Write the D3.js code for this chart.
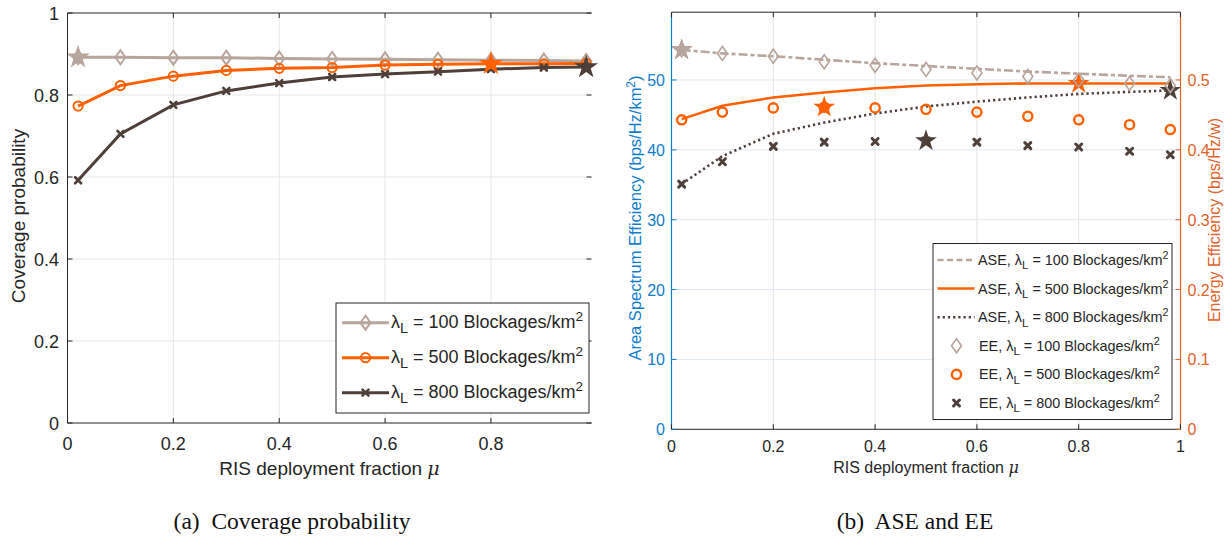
<!DOCTYPE html>
<html>
<head>
<meta charset="utf-8">
<script src="https://cdn.jsdelivr.net/npm/d3@7"></script>
<style>
  body { margin: 0; background: #fff; }
  text { font-family: "Liberation Sans", Arial, sans-serif; }
</style>
</head>
<body>
<script>
// ---- data ----
var mu = [0.02, 0.1, 0.2, 0.3, 0.4, 0.5, 0.6, 0.7, 0.8, 0.9, 0.98];

var cov100 = [0.892, 0.892, 0.891, 0.891, 0.889, 0.888, 0.887, 0.886, 0.885, 0.884, 0.883];
var cov500 = [0.773, 0.823, 0.846, 0.860, 0.865, 0.867, 0.873, 0.875, 0.876, 0.876, 0.877];
var cov800 = [0.592, 0.705, 0.776, 0.810, 0.829, 0.844, 0.851, 0.857, 0.863, 0.867, 0.868];
var covStarIdx = [0, 8, 10];

var ase100 = [54.3, 53.8, 53.4, 52.9, 52.4, 52.0, 51.6, 51.2, 50.9, 50.6, 50.4];
var ase500 = [44.4, 46.3, 47.5, 48.2, 48.8, 49.2, 49.4, 49.5, 49.5, 49.5, 49.5];
var ase800 = [35.1, 39.1, 42.3, 43.9, 45.2, 46.2, 46.9, 47.5, 48.0, 48.3, 48.5];
var aseStarIdx = [0, 8, 10];

var ee100 = [0.543, 0.538, 0.534, 0.526, 0.521, 0.515, 0.510, 0.505, 0.500, 0.495, 0.492];
var ee500 = [0.443, 0.454, 0.460, 0.461, 0.460, 0.458, 0.454, 0.448, 0.443, 0.436, 0.429];
var ee800 = [0.351, 0.383, 0.405, 0.411, 0.412, 0.413, 0.411, 0.406, 0.404, 0.398, 0.393];
var eeStarIdx = [0, 3, 5];

var blockages = ["100", "500", "800"];
var covTicksX = [0, 0.2, 0.4, 0.6, 0.8];
var covTicksY = [0, 0.2, 0.4, 0.6, 0.8, 1];
var aseTicksX = [0, 0.2, 0.4, 0.6, 0.8, 1];
var aseTicksY = [0, 10, 20, 30, 40, 50];
var eeTicksY = [0, 0.1, 0.2, 0.3, 0.4, 0.5];

var colors = ["#b8a59c", "#ff6000", "#4f3f39"];
var axisCol = "#262626", blue = "#0f7ccc", orng = "#e0622a";

var width = 1225, height = 545;
var svg = d3.select("body").append("svg")
    .attr("width", width).attr("height", height);

var star = function(r) { return d3.symbol().type(d3.symbolStar).size(r * r / 0.8908130915292852)(); };

function marker(g, kind, x, y, col, sw) {
  if (kind == "diamond") {
    g.append("path").attr("d", "M" + x + "," + (y - 7) + "L" + (x + 5) + "," + y + "L" + x + "," + (y + 7) + "L" + (x - 5) + "," + y + "Z")
      .attr("fill", "none").attr("stroke", col).attr("stroke-width", sw);
  } else if (kind == "circle") {
    g.append("circle").attr("cx", x).attr("cy", y).attr("r", 4.6)
      .attr("fill", "none").attr("stroke", col).attr("stroke-width", sw);
  } else {
    g.append("path").attr("d", "M" + (x - 3) + "," + (y - 3) + "L" + (x + 3) + "," + (y + 3) + "M" + (x + 3) + "," + (y - 3) + "L" + (x - 3) + "," + (y + 3))
      .attr("stroke", col).attr("stroke-width", sw + 0.6).attr("stroke-linecap", "round");
  }
}

function lambdaLabel(t, prefix, b, fs) {
  if (prefix) t.append("tspan").text(prefix);
  t.append("tspan").text("λ");
  t.append("tspan").attr("dy", fs * 0.3).attr("font-size", fs * 0.8).text("L");
  t.append("tspan").attr("dy", -fs * 0.3).text(" = " + b + " Blockages/km");
  t.append("tspan").attr("dy", -fs * 0.4).attr("font-size", fs * 0.75).text("2");
}

// ================= (a) coverage probability =================
var xa = d3.scaleLinear().domain([0, 0.99]).range([67.5, 591.5]);
var ya = d3.scaleLinear().domain([0, 1]).range([423, 13]);
var ga = svg.append("g");

ga.selectAll(".gx").data(covTicksX.slice(1)).enter().append("line")
  .attr("x1", d => xa(d)).attr("x2", d => xa(d)).attr("y1", ya(0)).attr("y2", ya(1))
  .attr("stroke", "#e6e6e6");
ga.selectAll(".gy").data(covTicksY.slice(1, -1)).enter().append("line")
  .attr("x1", xa(0)).attr("x2", xa(0.99)).attr("y1", d => ya(d)).attr("y2", d => ya(d))
  .attr("stroke", "#e6e6e6");

var covSeries = [cov100, cov500, cov800];
var covMarks = ["diamond", "circle", "x"];
var lineA = d3.line().x((d, i) => xa(mu[i])).y(d => ya(d));
covSeries.forEach(function(s, k) {
  ga.append("path").attr("d", lineA(s)).attr("fill", "none")
    .attr("stroke", colors[k]).attr("stroke-width", 3);
  s.forEach(function(v, i) { marker(ga, covMarks[k], xa(mu[i]), ya(v), colors[k], 2); });
});
covSeries.forEach(function(s, k) {
  var i = covStarIdx[k];
  ga.append("path").attr("d", star(12.5))
    .attr("transform", "translate(" + xa(mu[i]) + "," + ya(s[i]) + ")")
    .attr("fill", colors[k]);
});

// axes (a)
ga.append("line").attr("x1", xa(0)).attr("x2", xa(0.99)).attr("y1", ya(0)).attr("y2", ya(0)).attr("stroke", axisCol);
ga.append("line").attr("x1", xa(0)).attr("x2", xa(0.99)).attr("y1", ya(1)).attr("y2", ya(1)).attr("stroke", axisCol);
ga.append("line").attr("x1", xa(0)).attr("x2", xa(0)).attr("y1", ya(0)).attr("y2", ya(1)).attr("stroke", axisCol);
covTicksX.forEach(function(t) {
  ga.append("line").attr("x1", xa(t)).attr("x2", xa(t)).attr("y1", ya(0)).attr("y2", ya(0) - 5).attr("stroke", axisCol);
  ga.append("line").attr("x1", xa(t)).attr("x2", xa(t)).attr("y1", ya(1)).attr("y2", ya(1) + 5).attr("stroke", axisCol);
  ga.append("text").attr("x", xa(t)).attr("y", 450).attr("text-anchor", "middle")
    .attr("font-size", 18).attr("fill", axisCol).text(t);
});
covTicksY.forEach(function(t) {
  ga.append("line").attr("x1", xa(0)).attr("x2", xa(0) + 5).attr("y1", ya(t)).attr("y2", ya(t)).attr("stroke", axisCol);
  ga.append("line").attr("x1", xa(0.99)).attr("x2", xa(0.99) - 5).attr("y1", ya(t)).attr("y2", ya(t)).attr("stroke", axisCol);
  ga.append("text").attr("x", 59).attr("y", ya(t) + 6.5).attr("text-anchor", "end")
    .attr("font-size", 18).attr("fill", axisCol).text(t);
});
var xla = ga.append("text").attr("x", (xa(0) + xa(0.99)) / 2).attr("y", 475).attr("text-anchor", "middle")
  .attr("font-size", 19).attr("fill", axisCol);
xla.append("tspan").text("RIS deployment fraction ");
xla.append("tspan").style("font-style", "italic").style("font-family", "DejaVu Serif").text("μ");
ga.append("text").attr("transform", "translate(25,216) rotate(-90)").attr("text-anchor", "middle")
  .attr("font-size", 19).attr("fill", axisCol).text("Coverage probability");

// legend (a)
var la = ga.append("g");
la.append("rect").attr("x", 336).attr("y", 303).attr("width", 253).attr("height", 110)
  .attr("fill", "#fff").attr("stroke", axisCol);
blockages.forEach(function(b, k) {
  var y = 322.7 + k * 35;
  la.append("line").attr("x1", 342).attr("x2", 389).attr("y1", y).attr("y2", y)
    .attr("stroke", colors[k]).attr("stroke-width", 3);
  marker(la, covMarks[k], 365.5, y, colors[k], 2);
  var t = la.append("text").attr("x", 391).attr("y", y + 5).attr("font-size", 18).attr("fill", axisCol);
  lambdaLabel(t, null, b, 18);
});

// ================= (b) ASE and EE =================
var xb = d3.scaleLinear().domain([0, 1]).range([671.5, 1180.5]);
var yb = d3.scaleLinear().domain([0, 59.7]).range([429.3, 12.2]);
var yr = d3.scaleLinear().domain([0, 0.597]).range([429.3, 12.2]);
var gb = svg.append("g");

gb.selectAll(".gx").data(aseTicksX.slice(1, -1)).enter().append("line")
  .attr("x1", d => xb(d)).attr("x2", d => xb(d)).attr("y1", yb(0)).attr("y2", yb(59.7))
  .attr("stroke", "#e3e3e3");
gb.selectAll(".gy").data(aseTicksY.slice(1)).enter().append("line")
  .attr("x1", xb(0)).attr("x2", xb(1)).attr("y1", d => yb(d)).attr("y2", d => yb(d))
  .attr("stroke", "#dfe9f2");

var aseSeries = [ase100, ase500, ase800];
var eeSeries = [ee100, ee500, ee800];
var dashes = ["9,3,4,3", null, "2.2,3"];
var lineB = d3.line().x((d, i) => xb(mu[i])).y(d => yb(d));
aseSeries.forEach(function(s, k) {
  gb.append("path").attr("d", lineB(s)).attr("fill", "none")
    .attr("stroke", colors[k]).attr("stroke-width", k == 1 ? 2.5 : 2.6)
    .attr("stroke-dasharray", dashes[k]);
});
aseSeries.forEach(function(s, k) {
  var i = aseStarIdx[k];
  gb.append("path").attr("d", star(11.5))
    .attr("transform", "translate(" + xb(mu[i]) + "," + yb(s[i]) + ")")
    .attr("fill", colors[k]);
});
eeSeries.forEach(function(s, k) {
  s.forEach(function(v, i) { marker(gb, covMarks[k], xb(mu[i]), yr(v), colors[k], k == 0 ? 1.6 : 2.4); });
});
eeSeries.forEach(function(s, k) {
  var i = eeStarIdx[k];
  gb.append("path").attr("d", star(11.5))
    .attr("transform", "translate(" + xb(mu[i]) + "," + yr(s[i]) + ")")
    .attr("fill", colors[k]);
});

// axes (b)
gb.append("line").attr("x1", xb(0)).attr("x2", xb(1)).attr("y1", yb(0)).attr("y2", yb(0)).attr("stroke", axisCol);
gb.append("line").attr("x1", xb(0)).attr("x2", xb(1)).attr("y1", yb(59.7)).attr("y2", yb(59.7)).attr("stroke", axisCol);
gb.append("line").attr("x1", xb(0)).attr("x2", xb(0)).attr("y1", yb(0)).attr("y2", yb(59.7)).attr("stroke", blue).attr("stroke-width", 1.2);
gb.append("line").attr("x1", xb(1)).attr("x2", xb(1)).attr("y1", yb(0)).attr("y2", yb(59.7)).attr("stroke", orng).attr("stroke-width", 1.2);
aseTicksX.forEach(function(t) {
  gb.append("line").attr("x1", xb(t)).attr("x2", xb(t)).attr("y1", yb(0)).attr("y2", yb(0) - 5).attr("stroke", axisCol);
  gb.append("line").attr("x1", xb(t)).attr("x2", xb(t)).attr("y1", yb(59.7)).attr("y2", yb(59.7) + 5).attr("stroke", axisCol);
  gb.append("text").attr("x", xb(t)).attr("y", 452).attr("text-anchor", "middle")
    .attr("font-size", 16).attr("fill", axisCol).text(t);
});
aseTicksY.forEach(function(t) {
  gb.append("line").attr("x1", xb(0)).attr("x2", xb(0) + 5).attr("y1", yb(t)).attr("y2", yb(t)).attr("stroke", blue);
  gb.append("text").attr("x", 665).attr("y", yb(t) + 6).attr("text-anchor", "end")
    .attr("font-size", 16).attr("fill", blue).text(t);
});
eeTicksY.forEach(function(t) {
  gb.append("line").attr("x1", xb(1)).attr("x2", xb(1) - 5).attr("y1", yr(t)).attr("y2", yr(t)).attr("stroke", orng);
  gb.append("text").attr("x", 1187.5).attr("y", yr(t) + 6).attr("text-anchor", "start")
    .attr("font-size", 16).attr("fill", orng).text(t);
});
var xlb = gb.append("text").attr("x", (xb(0) + xb(1)) / 2).attr("y", 473).attr("text-anchor", "middle")
  .attr("font-size", 16).attr("fill", axisCol);
xlb.append("tspan").text("RIS deployment fraction ");
xlb.append("tspan").style("font-style", "italic").style("font-family", "DejaVu Serif").text("μ");

var ylb = gb.append("text").attr("transform", "translate(641,218) rotate(-90)").attr("text-anchor", "middle")
  .attr("font-size", 16.5).attr("fill", blue);
ylb.append("tspan").text("Area Spectrum Efficiency (bps/Hz/km");
ylb.append("tspan").attr("dy", -6).attr("font-size", 12).text("2");
ylb.append("tspan").attr("dy", 6).text(")");
gb.append("text").attr("transform", "translate(1220,220) rotate(-90)").attr("text-anchor", "middle")
  .attr("font-size", 16).attr("fill", orng).text("Energy Efficiency (bps/Hz/w)");

// legend (b)
var lb = gb.append("g");
lb.append("rect").attr("x", 933).attr("y", 243.5).attr("width", 239).attr("height", 176)
  .attr("fill", "#fff").attr("stroke", axisCol);
blockages.forEach(function(b, k) {
  var y = 260 + k * 28.6;
  lb.append("line").attr("x1", 937.5).attr("x2", 974.5).attr("y1", y).attr("y2", y)
    .attr("stroke", colors[k]).attr("stroke-width", 2.5).attr("stroke-dasharray", k == 0 ? "6,3.5" : dashes[k]);
  var t = lb.append("text").attr("x", 978).attr("y", y + 5).attr("font-size", 14.4).attr("fill", axisCol);
  lambdaLabel(t, "ASE, ", b, 14.4);
});
blockages.forEach(function(b, k) {
  var y = 260 + (k + 3) * 28.6;
  marker(lb, covMarks[k], 956.5, y, colors[k], k == 0 ? 1.6 : 2.4);
  var t = lb.append("text").attr("x", 979).attr("y", y + 5).attr("font-size", 14.4).attr("fill", axisCol);
  lambdaLabel(t, "EE, ", b, 14.4);
});

// captions
svg.append("text").attr("x", 292).attr("y", 529).attr("text-anchor", "middle")
  .style("font-family", "'Liberation Serif', 'Times New Roman', serif").attr("font-size", 23.5).attr("fill", "#111")
  .attr("xml:space", "preserve").text("(a)  Coverage probability");
svg.append("text").attr("x", 915).attr("y", 529).attr("text-anchor", "middle")
  .style("font-family", "'Liberation Serif', 'Times New Roman', serif").attr("font-size", 23.5).attr("fill", "#111")
  .attr("xml:space", "preserve").text("(b)  ASE and EE");
</script>
</body>
</html>
